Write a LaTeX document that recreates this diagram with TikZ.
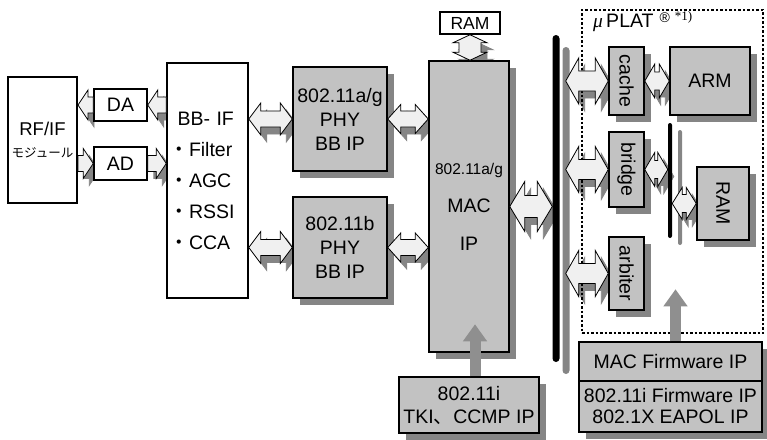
\documentclass[tikz,border=0pt]{standalone}
\usepackage{fontspec}
\usepackage{graphicx}
\setmainfont{Liberation Sans}
\newfontfamily\cjk{Noto Sans CJK JP}
\newfontfamily\serif{Liberation Serif}
\usetikzlibrary{arrows.meta,shadows,calc}
\pgfdeclarelayer{shadow}
\pgfsetlayers{shadow,main}
\definecolor{boxgray}{gray}{0.76}
\definecolor{arrowfill}{gray}{0.94}
\definecolor{shadowgray}{gray}{0.52}
\definecolor{upgray}{gray}{0.56}
\tikzset{
  wbox/.style={draw, line width=1.5pt, fill=white, inner sep=0pt},
  gbox/.style={wbox, fill=boxgray, drop shadow={shadow xshift=7pt, shadow yshift=-7pt, fill=shadowgray, opacity=1}},
  busbar/.style={fill=black, inner sep=0pt, rounded corners=#1},
  blk/.style={draw, line width=0.8pt, fill=arrowfill, line join=miter},
  shd/.style={fill=shadowgray, draw=shadowgray, line width=0.8pt, transform canvas={shift={(6pt,-7pt)}}},
  upar/.style={draw=upgray, line width=11pt, -{Triangle[length=17pt,width=23pt]}},
}
% block arrows: style, from, to, shaft half, head half, head length
\newcommand{\dblpath}[6]{%
  \path[#1] let \p1=(#2), \p2=(#3), \n1={ifthenelse(\x2>\x1,1,-1)} in
    (\x1,\y1) -- ({\x1+(\n1)*#6pt},{\y1+#5pt}) -- ({\x1+(\n1)*#6pt},{\y1+#4pt})
    -- ({\x2-(\n1)*#6pt},{\y1+#4pt}) -- ({\x2-(\n1)*#6pt},{\y1+#5pt}) -- (\x2,\y1)
    -- ({\x2-(\n1)*#6pt},{\y1-#5pt}) -- ({\x2-(\n1)*#6pt},{\y1-#4pt})
    -- ({\x1+(\n1)*#6pt},{\y1-#4pt}) -- ({\x1+(\n1)*#6pt},{\y1-#5pt}) -- cycle;}
\newcommand{\sglpath}[6]{%
  \path[#1] let \p1=(#2), \p2=(#3), \n1={ifthenelse(\x2>\x1,1,-1)} in
    (\x1,{\y1+#4pt}) -- ({\x2-(\n1)*#6pt},{\y1+#4pt}) -- ({\x2-(\n1)*#6pt},{\y1+#5pt})
    -- (\x2,\y1) -- ({\x2-(\n1)*#6pt},{\y1-#5pt}) -- ({\x2-(\n1)*#6pt},{\y1-#4pt})
    -- (\x1,{\y1-#4pt}) -- cycle;}
\newcommand{\vdblpath}[6]{%
  \path[#1] let \p1=(#2), \p2=(#3) in
    (\x1,\y1) -- ({\x1+#5pt},{\y1-#6pt}) -- ({\x1+#4pt},{\y1-#6pt})
    -- ({\x1+#4pt},{\y2+#6pt}) -- ({\x1+#5pt},{\y2+#6pt}) -- (\x1,\y2)
    -- ({\x1-#5pt},{\y2+#6pt}) -- ({\x1-#4pt},{\y2+#6pt})
    -- ({\x1-#4pt},{\y1-#6pt}) -- ({\x1-#5pt},{\y1-#6pt}) -- cycle;}
\newcommand{\dblarrow}[5]{%
  \begin{pgfonlayer}{shadow}\dblpath{shd}{#1}{#2}{#3}{#4}{#5}\end{pgfonlayer}
  \dblpath{blk}{#1}{#2}{#3}{#4}{#5}}
\newcommand{\sglarrow}[5]{%
  \begin{pgfonlayer}{shadow}\sglpath{shd}{#1}{#2}{#3}{#4}{#5}\end{pgfonlayer}
  \sglpath{blk}{#1}{#2}{#3}{#4}{#5}}
\newcommand{\vdblarrow}[5]{%
  \begin{pgfonlayer}{shadow}\vdblpath{shd}{#1}{#2}{#3}{#4}{#5}\end{pgfonlayer}
  \vdblpath{blk}{#1}{#2}{#3}{#4}{#5}}
\begin{document}
\begin{tikzpicture}[x=1pt, y=-1pt, every node/.style={font=\fontsize{19.5}{24}\selectfont}]
  \useasboundingbox (0,0) rectangle (767,439);
  % uPLAT frame
  \node[draw, line width=2pt, dash pattern=on 2.5pt off 2pt, minimum width=181pt, minimum height=323pt] (uplat) at (672.5,171.5) {};
  \node[anchor=west, inner sep=0pt] (uplatlbl) at (593,22) {{\serif\itshape μ}\,PLAT\hspace{6pt}\raisebox{5pt}{\fontsize{14}{14}\selectfont\textregistered}\hspace{5pt}\raisebox{7pt}{\serif\fontsize{13}{13}\selectfont *1)}};
  % radio side
  \node[wbox, line width=2pt, minimum width=69pt, minimum height=126pt, align=center, font=\fontsize{18.5}{22}\selectfont] (rfif) at (42.5,140) {RF/IF\\{\cjk\fontsize{12.5}{14}\selectfont モジュール}};
  \node[wbox, minimum width=53pt, minimum height=32pt] (da) at (120.5,105) {DA};
  \node[wbox, minimum width=53pt, minimum height=33pt] (ad) at (120.5,163.5) {AD};
  \node[wbox, minimum width=81pt, minimum height=235pt, text width=76pt, align=left, font=\fontsize{19.5}{31}\selectfont] (bbif) at (207.5,180.5)
    {\hspace{8pt}BB- IF\\{\cjk ・}Filter\\{\cjk ・}AGC\\{\cjk ・}RSSI\\{\cjk ・}CCA};
  % PHY and MAC
  \node[gbox, minimum width=94pt, minimum height=104pt, align=center] (phya) at (340,119) {802.11a/g\\PHY\\BB IP};
  \node[gbox, minimum width=94pt, minimum height=101pt, align=center] (phyb) at (340,247.5) {802.11b\\PHY\\BB IP};
  \node[gbox, minimum width=80pt, minimum height=291pt, align=center, font=\fontsize{19.5}{38}\selectfont] (mac) at (469,206.5)
    {{\fontsize{15.5}{38}\selectfont 802.11a/g}\\MAC\\IP};
  \node[wbox, minimum width=60pt, minimum height=22pt, font=\fontsize{17.5}{20}\selectfont] (ramtop) at (470,23) {RAM};
  % buses
  \node[busbar=3.5pt, minimum width=7pt, minimum height=327pt, drop shadow={shadow xshift=10pt, shadow yshift=-12pt, fill=shadowgray, opacity=1}] (bus) at (556,198.5) {};
  \node[busbar=2pt, minimum width=4pt, minimum height=115pt, drop shadow={shadow xshift=10pt, shadow yshift=-7pt, fill=shadowgray, opacity=1}] (sbus) at (670,180.5) {};
  % uPLAT blocks
  \node[gbox, minimum width=35pt, minimum height=68pt] (cache) at (626.5,81) {\rotatebox{-90}{cache}};
  \node[gbox, minimum width=80pt, minimum height=68pt] (arm) at (710,81) {ARM};
  \node[gbox, minimum width=35pt, minimum height=75pt] (bridge) at (626.5,169.5) {\rotatebox{-90}{bridge}};
  \node[gbox, minimum width=35pt, minimum height=73pt] (arbiter) at (626.5,273.5) {\rotatebox{-90}{arbiter}};
  \node[gbox, minimum width=52pt, minimum height=73pt] (ramr) at (723,203.5) {\rotatebox{-90}{RAM}};
  % firmware and security
  \node[gbox, minimum width=140pt, minimum height=56pt, align=center, font=\fontsize{19.5}{23}\selectfont] (tki) at (469,405) {802.11i\\TKI{\cjk 、}CCMP IP};
  \node[gbox, minimum width=183pt, minimum height=39pt] (macfw) at (670.5,361.5) {MAC Firmware IP};
  \node[gbox, minimum width=183pt, minimum height=51pt, align=center, font=\fontsize{19.5}{21}\selectfont] (secfw) at (670.5,406.5) {802.11i Firmware IP\\802.1X EAPOL IP};
  \coordinate (busr) at ($(bus.east)+(6,0)$);
  % block arrows
  \sglarrow{da.west}{rfif.east |- da.west}{8}{15}{10}
  \sglarrow{bbif.west |- da.east}{da.east}{8}{15}{10}
  \sglarrow{rfif.east |- ad.west}{ad.west}{8}{15}{10}
  \sglarrow{ad.east}{bbif.west |- ad.east}{8}{15}{10}
  \dblarrow{bbif.east |- phya.west}{phya.west}{8}{16}{12}
  \dblarrow{bbif.east |- phyb.west}{phyb.west}{8}{16}{12}
  \dblarrow{phya.east}{mac.west |- phya.east}{8}{14.5}{13}
  \dblarrow{phyb.east}{mac.west |- phyb.east}{8}{14.5}{13}
  \vdblarrow{ramtop.south}{mac.north}{11}{17}{8}
  \dblarrow{mac.east}{bus.west |- mac.east}{11}{25}{15}
  \dblarrow{busr |- cache.west}{cache.west}{10}{23}{13}
  \dblarrow{busr |- bridge.west}{bridge.west}{10}{23}{13}
  \dblarrow{busr |- arbiter.west}{arbiter.west}{10}{23}{13}
  \dblarrow{cache.east}{arm.west |- cache.east}{9}{17}{10}
  \dblarrow{bridge.east}{sbus.west |- bridge.east}{9}{17}{10}
  \dblarrow{sbus.east |- ramr.west}{ramr.west}{9}{16}{10}
  % firmware feeds
  \draw[upar] ([xshift=6pt]tki.north) -- ++(0,-52);
  \draw[upar] ([xshift=5pt]macfw.north) -- ++(0,-52);
\end{tikzpicture}
\end{document}
